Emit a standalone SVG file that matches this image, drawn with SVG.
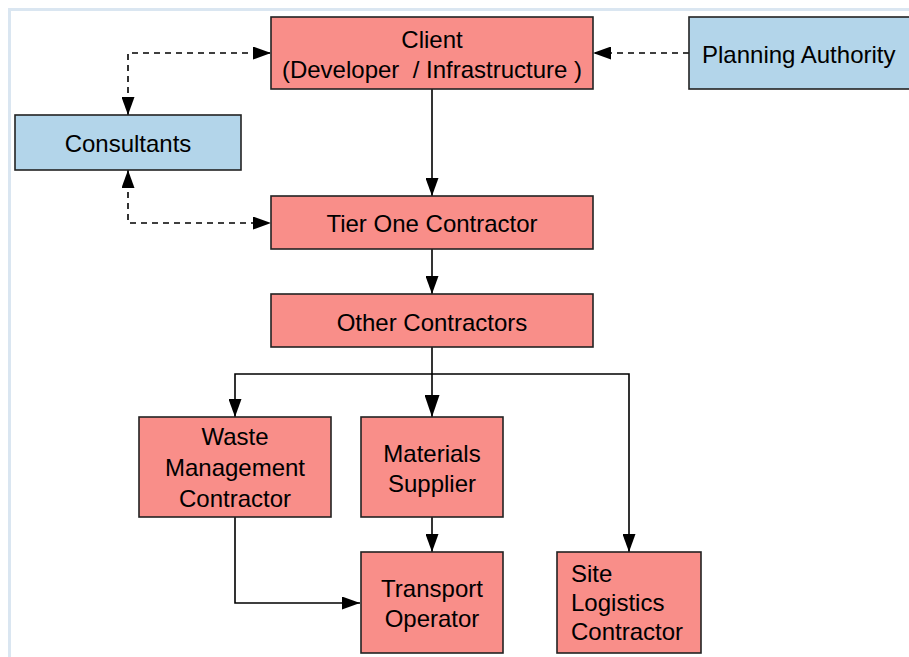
<svg xmlns="http://www.w3.org/2000/svg" width="909" height="657" viewBox="0 0 909 657">
<defs>
<style>
.pink{fill:#f98e89;stroke:#222;stroke-width:1.6}
.blue{fill:#b3d5ea;stroke:#222;stroke-width:1.6}
text{font-family:"Liberation Sans",Arial,sans-serif;font-size:24px;fill:#000}
.c{text-anchor:middle}
.solid{fill:none;stroke:#000;stroke-width:1.6}
.dash{fill:none;stroke:#000;stroke-width:1.6;stroke-dasharray:6,5}
</style>
<marker id="ah" markerUnits="userSpaceOnUse" markerWidth="18" markerHeight="13" refX="18" refY="6.5" orient="auto-start-reverse">
<path d="M0,0 L18,6.5 L0,13 z" fill="#000"/>
</marker>
<marker id="ahL" markerUnits="userSpaceOnUse" markerWidth="22" markerHeight="15" refX="22" refY="7.5" orient="auto-start-reverse">
<path d="M0,0 L22,7.5 L0,15 z" fill="#000"/>
</marker>
</defs>
<rect x="0" y="0" width="909" height="657" fill="#fff"/>
<rect x="9.5" y="9.5" width="930" height="700" fill="none" stroke="#dae6f1" stroke-width="3"/>

<g id="connectors">
<path class="dash" d="M128,115 V53 H271" marker-start="url(#ah)" marker-end="url(#ah)"/>
<path class="dash" d="M128,170 V223 H271" marker-start="url(#ah)" marker-end="url(#ah)"/>
<path class="dash" d="M689,53 H593" marker-end="url(#ah)"/>
<path class="solid" d="M432,89 V196" marker-end="url(#ah)"/>
<path class="solid" d="M432,249 V294" marker-end="url(#ah)"/>
<path class="solid" d="M432,347 V417" marker-end="url(#ahL)"/>
<path class="solid" d="M235,417 V374 H629 V552" marker-start="url(#ah)" marker-end="url(#ah)"/>
<path class="solid" d="M432,517 V552" marker-end="url(#ah)"/>
<path class="solid" d="M235,517 V603 H360" marker-end="url(#ah)"/>
</g>

<g id="client">
<rect class="pink" x="271" y="17" width="322" height="72"/>
<text class="c" x="432" y="48">Client</text>
<text class="c" x="432" y="78">(Developer&#160; / Infrastructure )</text>
</g>
<g id="planning-authority">
<rect class="blue" x="689" y="17" width="240" height="72"/>
<text x="702" y="63">Planning Authority</text>
</g>
<g id="consultants">
<rect class="blue" x="15" y="115" width="226" height="55"/>
<text class="c" x="128" y="152">Consultants</text>
</g>
<g id="tier-one">
<rect class="pink" x="271" y="196" width="322" height="53"/>
<text class="c" x="432" y="232">Tier One Contractor</text>
</g>
<g id="other-contractors">
<rect class="pink" x="271" y="294" width="322" height="53"/>
<text class="c" x="432" y="331">Other Contractors</text>
</g>
<g id="waste">
<rect class="pink" x="139" y="417" width="192" height="100"/>
<text class="c" x="235" y="445">Waste</text>
<text class="c" x="235" y="476">Management</text>
<text class="c" x="235" y="507">Contractor</text>
</g>
<g id="materials">
<rect class="pink" x="361" y="417" width="142" height="100"/>
<text class="c" x="432" y="462">Materials</text>
<text class="c" x="432" y="492">Supplier</text>
</g>
<g id="transport">
<rect class="pink" x="361" y="552" width="142" height="101"/>
<text class="c" x="432" y="597">Transport</text>
<text class="c" x="432" y="627">Operator</text>
</g>
<g id="site-logistics">
<rect class="pink" x="557" y="552" width="144" height="101"/>
<text x="571" y="582">Site</text>
<text x="571" y="611">Logistics</text>
<text x="571" y="640">Contractor</text>
</g>
</svg>
